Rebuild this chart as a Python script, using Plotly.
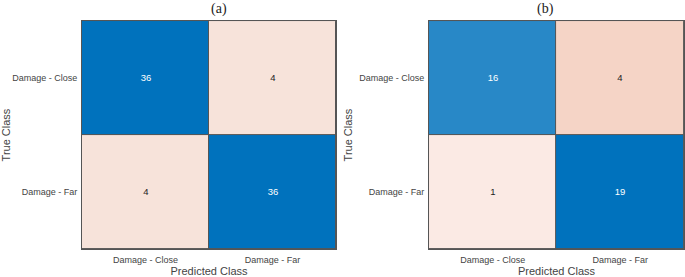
import plotly.graph_objects as go

classes = ["Damage - Close", "Damage - Far"]
cm_a = [[36, 4], [4, 36]]
cm_b = [[16, 4], [1, 19]]
panel_titles = ["(a)", "(b)"]

BLUE = "rgb(0,114,189)"
diag_scale = [[0, "rgb(255,255,255)"], [1, BLUE]]
off_scale = [[0, "rgb(255,255,255)"], [0.053, "rgb(251,234,228)"], [0.111, "rgb(247,227,218)"],
             [0.21, "rgb(245,212,198)"], [1, "rgb(217,83,25)"]]

FONT = "Liberation Sans, Arial, sans-serif"
fig = go.Figure()
xdoms = [[0.1197, 0.4905], [0.6263, 0.9985]]
ydom = [0.101, 0.924]
for i, cm in enumerate([cm_a, cm_b]):
    n = len(classes)
    diag = [[cm[r][c] if r == c else None for c in range(n)] for r in range(n)]
    off = [[cm[r][c] if r != c else None for c in range(n)] for r in range(n)]
    mx = max(max(row) for row in cm)
    xa = "x" if i == 0 else "x2"
    ya = "y" if i == 0 else "y2"
    fig.add_trace(go.Heatmap(z=diag, x=classes, y=classes, colorscale=diag_scale, zmin=0,
                             zmax=max(cm[k][k] for k in range(n)), showscale=False,
                             texttemplate="%{z}", textfont=dict(family=FONT, color="#ffffff", size=9.5),
                             xgap=1, ygap=1, xaxis=xa, yaxis=ya, hoverinfo="skip"))
    fig.add_trace(go.Heatmap(z=off, x=classes, y=classes, colorscale=off_scale, zmin=0,
                             zmax=mx, showscale=False,
                             texttemplate="%{z}", textfont=dict(family=FONT, color="#222222", size=9.5),
                             xgap=1, ygap=1, xaxis=xa, yaxis=ya, hoverinfo="skip"))

axcommon = dict(showline=True, mirror=True, linecolor="#555555", linewidth=1, ticks="",
                showgrid=False, zeroline=False, automargin=False,
                tickfont=dict(family=FONT, size=9, color="#444444"))
tfont = dict(family=FONT, size=11, color="#444444")
fig.update_layout(
    width=685, height=277, margin=dict(l=0, r=0, t=0, b=0),
    paper_bgcolor="white", plot_bgcolor="#555555",
    xaxis=dict(domain=xdoms[0], anchor="y", ticklabelstandoff=2, **axcommon,
               title=dict(text="Predicted Class", standoff=3, font=tfont)),
    yaxis=dict(domain=ydom, anchor="x", autorange="reversed", ticklabelstandoff=2, **axcommon,
               title=dict(text="True Class", standoff=4, font=tfont)),
    xaxis2=dict(domain=xdoms[1], anchor="y2", ticklabelstandoff=2, **axcommon,
                title=dict(text="Predicted Class", standoff=3, font=tfont)),
    yaxis2=dict(domain=ydom, anchor="x2", autorange="reversed", ticklabelstandoff=2, **axcommon,
                title=dict(text="True Class", standoff=4, font=tfont)),
)
for i, t in enumerate(panel_titles):
    fig.add_annotation(text=t, xref="paper", yref="paper", x=sum(xdoms[i]) / 2, y=1.003,
                       yanchor="top", showarrow=False,
                       font=dict(family="Liberation Serif, Times New Roman, serif", size=14, color="#222222"))
fig.write_html("out.html", config={"displayModeBar": False},
               post_script="document.body.style.margin='0';document.body.style.overflow='hidden';")
